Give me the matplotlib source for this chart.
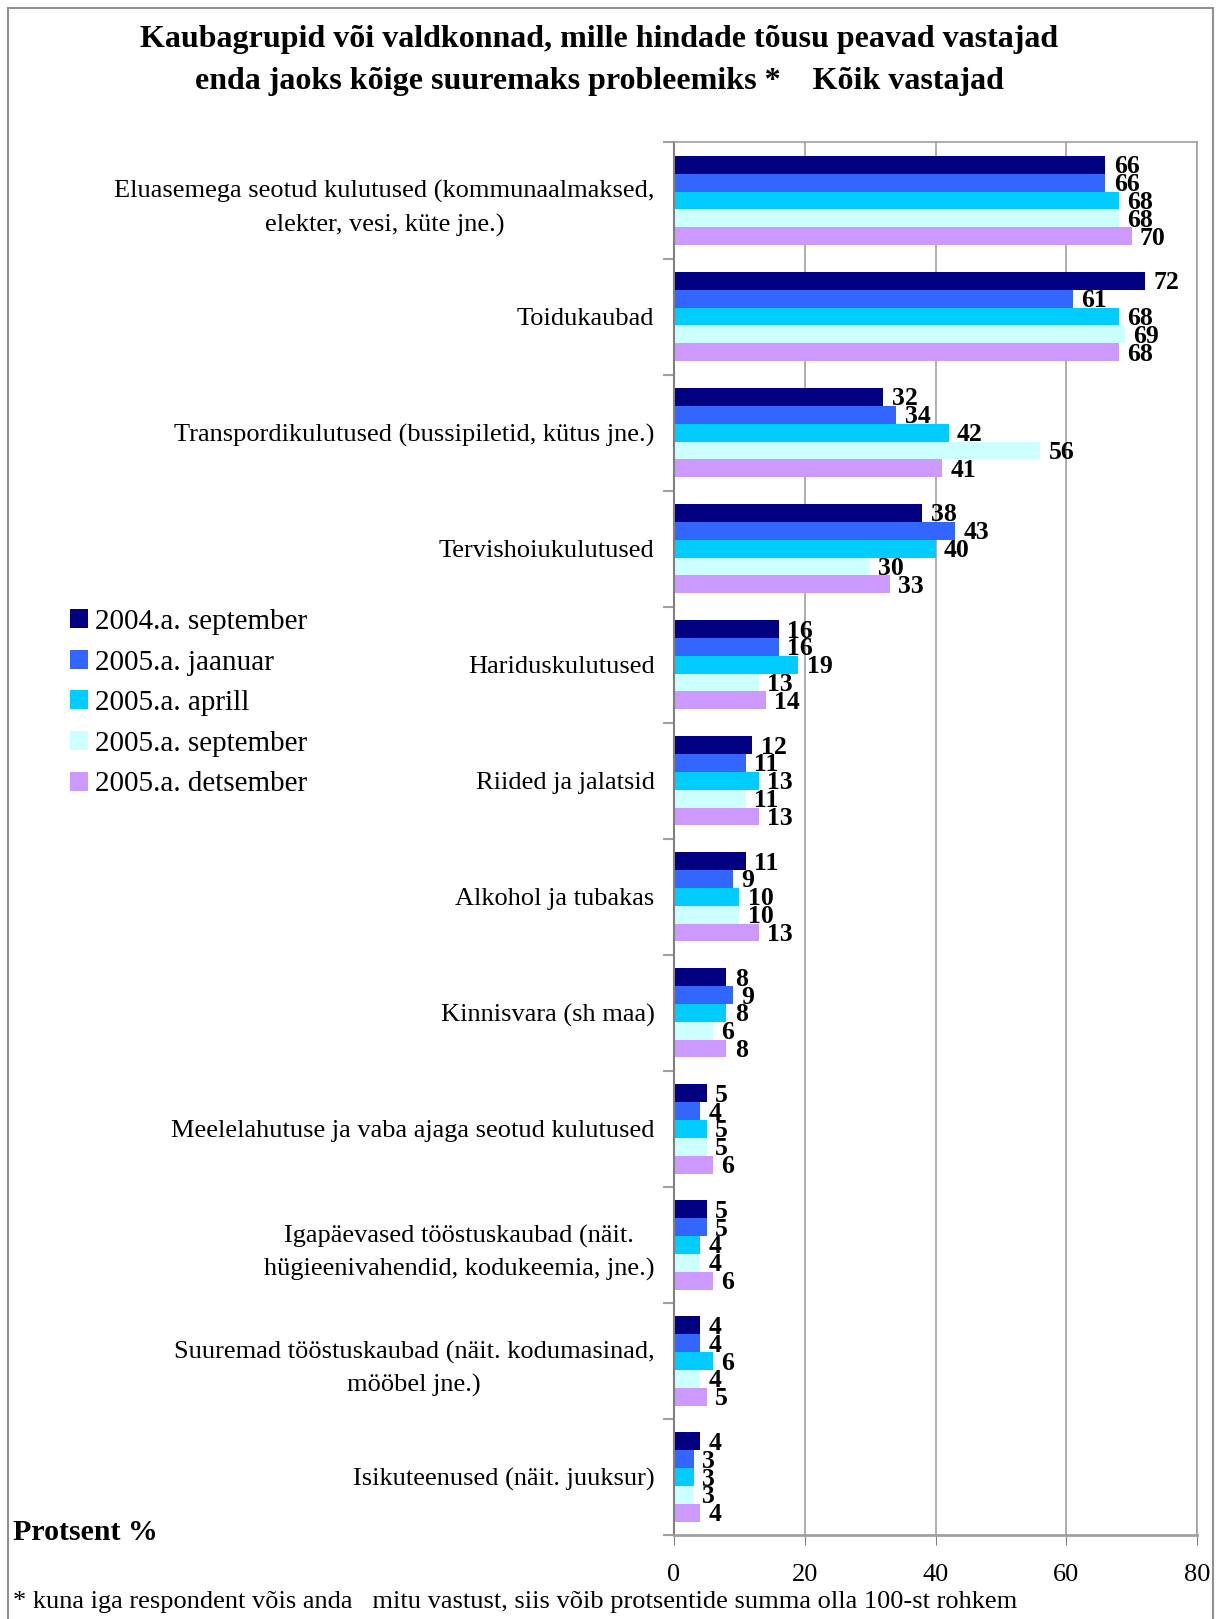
import numpy as np
import matplotlib.pyplot as plt
from matplotlib.patches import Rectangle, Patch

plt.rcParams['font.family'] = ['Liberation Serif', 'DejaVu Serif']

# kategooriad ja vastused (%)
categories = [
    "Eluasemega seotud kulutused (kommunaalmaksed,\nelekter, vesi, küte jne.)",
    "Toidukaubad",
    "Transpordikulutused (bussipiletid, kütus jne.)",
    "Tervishoiukulutused",
    "Hariduskulutused",
    "Riided ja jalatsid",
    "Alkohol ja tubakas",
    "Kinnisvara (sh maa)",
    "Meelelahutuse ja vaba ajaga seotud kulutused",
    "Igapäevased tööstuskaubad (näit.\nhügieenivahendid, kodukeemia, jne.)",
    "Suuremad tööstuskaubad (näit. kodumasinad,\nmööbel jne.)",
    "Isikuteenused (näit. juuksur)",
]
series_names = ["2004.a. september", "2005.a. jaanuar", "2005.a. aprill",
                "2005.a. september", "2005.a. detsember"]
sep_2004 = [66, 72, 32, 38, 16, 12, 11, 8, 5, 5, 4, 4]
jan_2005 = [66, 61, 34, 43, 16, 11, 9, 9, 4, 5, 4, 3]
apr_2005 = [68, 68, 42, 40, 19, 13, 10, 8, 5, 4, 6, 3]
sep_2005 = [68, 69, 56, 30, 13, 11, 10, 6, 5, 4, 4, 3]
dec_2005 = [70, 68, 41, 33, 14, 13, 13, 8, 6, 6, 5, 4]
colors = ["#000080", "#3366FF", "#00CCFF", "#CCFFFF", "#CC99FF"]

series = [sep_2004, jan_2005, apr_2005, sep_2005, dec_2005]

W, H = 1217, 1619
fig = plt.figure(figsize=(W / 100, H / 100), dpi=100)
ax = fig.add_axes([674 / W, 1 - 1535 / H, (1197 - 674) / W, (1535 - 142.5) / H])

y = np.arange(len(categories))
h = 0.154
for j, (vals, col) in enumerate(zip(series, colors)):
    pos = y + (j - 2) * h
    bars = ax.barh(pos, vals, height=h, color=col, label=series_names[j], zorder=2)
    for b, v in zip(bars, vals):
        ax.annotate(str(v), (b.get_width(), b.get_y() + b.get_height() / 2),
                    xytext=(6, -1.5), textcoords='offset points', va='center', ha='left',
                    fontsize=18.5, fontweight='bold', zorder=3)

ax.set_xlim(0, 80)
ax.set_ylim(len(categories) - 0.5, -0.5)
ax.set_xticks([0, 20, 40, 60, 80])
ax.tick_params(axis='x', length=7, color='#808080', labelsize=19, pad=14)
ax.set_yticks(y)
ax.set_yticklabels(categories, fontsize=19, multialignment='center', linespacing=1.6)
ax.tick_params(axis='y', which='major', length=0, pad=14)
ax.set_yticks(np.arange(len(categories) + 1) - 0.5, minor=True)
ax.tick_params(axis='y', which='minor', length=8, color='#a0a0a0', width=1.5)
ax.grid(axis='x', color='#a0a0a0', linewidth=1.2, zorder=0)
for s in ['top', 'right']:
    ax.spines[s].set_color('#a0a0a0')
    ax.spines[s].set_linewidth(1.2)
ax.spines['left'].set_color('#808080')
ax.spines['left'].set_linewidth(1.5)
ax.spines['bottom'].set_color('#a0a0a0')
ax.spines['bottom'].set_linewidth(2)

handles = [Patch(facecolor=c, label=n) for c, n in zip(colors, series_names)]
fig.legend(handles=handles, loc='upper left', bbox_to_anchor=(70 / W, 1 - 609 / H),
           frameon=False, fontsize=21, handlelength=0.62, handleheight=0.62,
           handletextpad=0.25, labelspacing=0.5, borderpad=0, borderaxespad=0)

fig.text(599 / W, 1 - 40 / H,
         "Kaubagrupid või valdkonnad, mille hindade tõusu peavad vastajad",
         ha='center', va='center', fontsize=23, fontweight='bold')
fig.text(599 / W, 1 - 81 / H,
         "enda jaoks kõige suuremaks probleemiks *    Kõik vastajad",
         ha='center', va='center', fontsize=23, fontweight='bold')
fig.text(13 / W, 1 - 1532 / H, "Protsent %", ha='left', va='center',
         fontsize=21.5, fontweight='bold')
fig.text(13 / W, 1 - 1602 / H,
         "* kuna iga respondent võis anda   mitu vastust, siis võib protsentide summa olla 100-st rohkem",
         ha='left', va='center', fontsize=19)

fig.patches.append(Rectangle((8 / W, -0.05), (1213 - 8) / W, 1.05 - 8 / H,
                             transform=fig.transFigure, fill=False,
                             edgecolor='#909090', linewidth=1.5))

fig.savefig('out.png', dpi=100)
